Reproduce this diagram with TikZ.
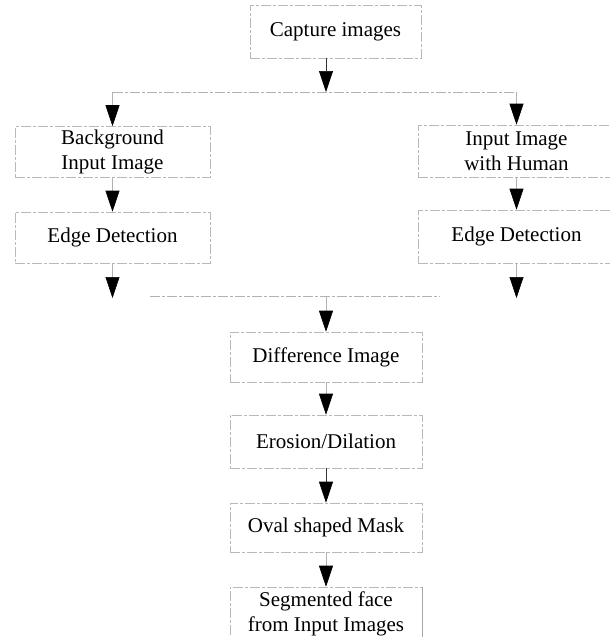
\documentclass[tikz,border=0pt]{standalone}
\usepackage{fontspec}
\setmainfont{Liberation Serif}
\usetikzlibrary{arrows.meta}

\begin{document}
\begin{tikzpicture}[x=1pt, y=-1pt, every node/.style={font=\fontsize{21}{25}\selectfont}]
        \tikzstyle{box} = [draw=gray!55, line width=0.6pt, dash pattern=on 10pt off 2pt on 3pt off 2pt, rectangle, align=center, inner sep=2pt]
        \tikzstyle{wire} = [draw=gray!60, line width=0.6pt, dash pattern=on 10pt off 2pt on 3pt off 2pt]
        \tikzstyle{flow} = [-{Triangle[width=14pt, length=21pt, color=black]}, draw=gray!60, line width=0.6pt]
        \useasboundingbox (0,0) rectangle (610,637);
        \clip (0,0) rectangle (610,637);
        \node[box, minimum width=171pt, minimum height=53pt] (cap) at (335.5, 31.5) {Capture images};
        \node[box, minimum width=195pt, minimum height=51pt] (bg) at (112.5, 152) {Background\\Input Image};
        \node[box, minimum width=195pt, minimum height=51pt] (edgeL) at (112.5, 237.5) {Edge Detection};
        \node[box, minimum width=197pt, minimum height=52pt] (hum) at (516.5, 151) {Input Image\\with Human};
        \node[box, minimum width=197pt, minimum height=53pt] (edgeR) at (516.5, 236.5) {Edge Detection};
        \node[box, minimum width=192pt, minimum height=50pt] (diff) at (326, 357) {Difference Image};
        \node[box, minimum width=192pt, minimum height=53pt] (ero) at (326, 441.5) {Erosion/Dilation};
        \node[box, minimum width=192pt, minimum height=49pt] (oval) at (326, 527.5) {Oval shaped Mask};
        \node[box, minimum width=192pt, minimum height=54pt] (seg) at (326, 614) {Segmented face\\from Input Images};
        \draw[gray!70, line width=1pt] (seg.north east) -- (seg.south east);
        \coordinate (split) at (326, 92);
        \coordinate (splitL) at (112.5, 92);
        \coordinate (splitR) at (516.5, 92);
        \coordinate (endL) at (112.5, 298);
        \coordinate (endR) at (516.5, 298);
        \coordinate (mergeL) at (150, 296);
        \coordinate (mergeR) at (440, 296);
        \coordinate (merge) at (326, 296);
        \draw[flow, draw=black!80] (cap.south -| split) -- (split);
        \draw[wire] (splitL) -- (splitR);
        \draw[flow] (splitL) -- (bg.north);
        \draw[flow] (splitR) -- (hum.north);
        \draw[flow] (bg.south) -- (edgeL.north);
        \draw[flow] (hum.south) -- (edgeR.north);
        \draw[flow] (edgeL.south) -- (endL);
        \draw[flow] (edgeR.south) -- (endR);
        \draw[wire] (mergeL) -- (mergeR);
        \draw[flow] (merge) -- (diff.north);
        \draw[flow] (diff.south) -- (ero.north);
        \draw[flow, draw=black!80] (ero.south) -- (oval.north);
        \draw[flow] (oval.south) -- (seg.north);
\end{tikzpicture}
\end{document}
